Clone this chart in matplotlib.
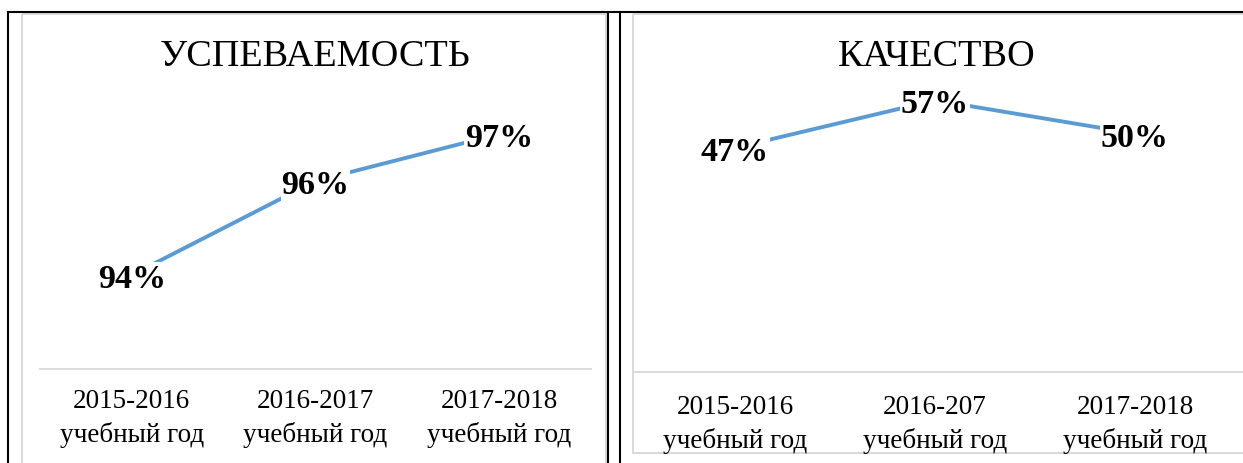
import matplotlib
matplotlib.use("Agg")
import matplotlib.pyplot as plt
from matplotlib.lines import Line2D
from matplotlib.patches import Rectangle

plt.rcParams['font.family'] = ['Liberation Serif', 'DejaVu Serif']

# ---- data ----
titles = ["УСПЕВАЕМОСТЬ", "КАЧЕСТВО"]
categories_left = ["2015-2016\nучебный год", "2016-2017\nучебный год", "2017-2018\nучебный год"]
categories_right = ["2015-2016\nучебный год", "2016-207\nучебный год", "2017-2018\nучебный год"]
success = [94, 96, 97]
quality = [47, 57, 50]

W, H = 1243, 464
DPI = 100
fig = plt.figure(figsize=(W / DPI, H / DPI), dpi=DPI)
fig.patch.set_facecolor("white")

# overlay in pixel coordinates for frames / borders
bg = fig.add_axes([0, 0, 1, 1], zorder=0)
bg.set_xlim(0, W)
bg.set_ylim(H, 0)
bg.axis("off")

GRAY = "#D9D9D9"
# chart frames
bg.add_patch(Rectangle((22, 14.5), 584, 460, fill=False, ec=GRAY, lw=1.4))
bg.add_patch(Rectangle((633.5, 14.5), 640, 439.5, fill=False, ec=GRAY, lw=1.4))
# black table borders
bg.add_line(Line2D([8, W], [13, 13], color="black", lw=1.5))
for xv in (8, 608, 620):
    bg.add_line(Line2D([xv, xv], [13, H], color="black", lw=1.5))


def px_axes(x0, x1, ytop, ybot):
    return fig.add_axes([x0 / W, 1 - ybot / H, (x1 - x0) / W, (ybot - ytop) / H], zorder=2)


def draw(ax, cats, vals, ylim, axis_extent, title, title_xy, pad):
    xs = list(range(len(vals)))
    ax.plot(xs, vals, color="#5B9BD5", lw=2.8, solid_capstyle="butt", zorder=2)
    for x, v in zip(xs, vals):
        ax.text(x, v, f"{v}%", ha="center", va="center_baseline", fontsize=24.5, fontweight="bold",
                bbox=dict(facecolor="white", edgecolor="none", pad=0.5), zorder=3)
    ax.set_xlim(-0.5, len(vals) - 0.5)
    ax.set_ylim(*ylim)
    ax.set_facecolor("none")
    for s in ("top", "right", "left", "bottom"):
        ax.spines[s].set_visible(False)
    ax.set_yticks([])
    ax.set_xticks(xs)
    ax.set_xticklabels(cats, fontsize=19.5, linespacing=1.4)
    ax.tick_params(axis="x", length=0, pad=pad)
    bg.add_line(Line2D(axis_extent[0], axis_extent[1], color=GRAY, lw=1.3))
    bg.text(title_xy[0], title_xy[1], title, ha="center", va="center", fontsize=27.5)


axL = px_axes(40, 591, 88, 370)
draw(axL, categories_left, success, (92, 98), ([40, 591], [370, 370]), titles[0], (315, 57), 14)

axR = px_axes(635, 1235, 87, 372.5)
draw(axR, categories_right, quality, (0, 60), ([634, W], [372.5, 372.5]), titles[1], (937, 57), 16)

fig.savefig("out.png", dpi=DPI)
